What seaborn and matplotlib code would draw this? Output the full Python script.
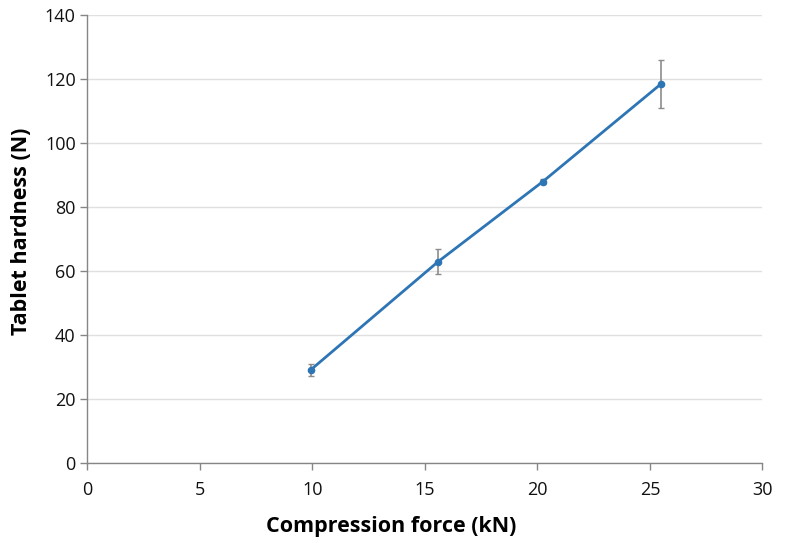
import numpy as np
import pandas as pd
import seaborn as sns
import matplotlib
matplotlib.use("Agg")
import matplotlib.pyplot as plt

force=[9.92,15.58,20.23,25.48]
hardness=[29.1,62.9,87.9,118.4]
sd=[1.9,3.9,0.8,7.4]

df=pd.DataFrame({"force":force,"hardness":hardness,"sd":sd})

sns.set_style("white")
plt.rcParams["font.family"]=["Open Sans","DejaVu Sans"]

fig=plt.figure(figsize=(7.99,5.43),dpi=100)
ax=fig.add_axes([0.1095,0.1473,0.8448,0.8251])

ax.errorbar(df["force"],df["hardness"],yerr=df["sd"],fmt="none",ecolor="#8c8c8c",elinewidth=1.2,capsize=2.5,capthick=1,zorder=2)
sns.lineplot(data=df,x="force",y="hardness",marker="o",color="#2e75b6",linewidth=2,markersize=5.5,markeredgewidth=0,ax=ax,zorder=3)

ax.set_xlim(0,30)
ax.set_ylim(0,140)
ax.set_xticks(range(0,31,5))
ax.set_yticks(range(0,141,20))
ax.yaxis.grid(True,color="#e0e0e0",linewidth=1)
ax.set_axisbelow(True)
for s in ["top","right"]:
    ax.spines[s].set_visible(False)
for s in ["left","bottom"]:
    ax.spines[s].set_color("#868686")
    ax.spines[s].set_linewidth(1)
ax.tick_params(axis="both",bottom=True,left=True,direction="out",length=5,width=1,color="#868686",labelsize=13,labelcolor="#111111")
ax.tick_params(axis="x",pad=8)
ax.set_xlabel("Compression force (kN)",fontsize=15.5,fontweight="bold",color="black")
ax.set_ylabel("Tablet hardness (N)",fontsize=15.5,fontweight="bold",color="black")
ax.xaxis.set_label_coords(0.45,-0.118)
ax.yaxis.set_label_coords(-0.082,0.518)

fig.savefig("out.png",dpi=100)
